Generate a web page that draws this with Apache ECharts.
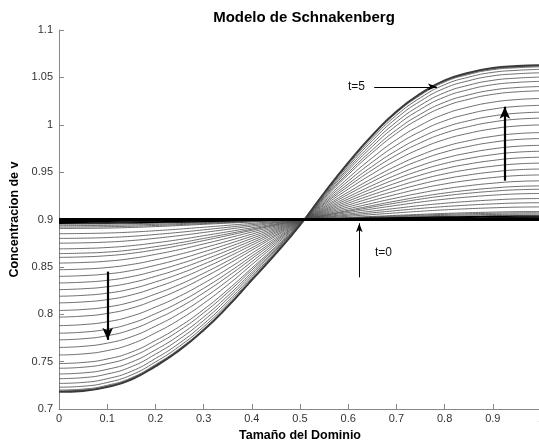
<!DOCTYPE html>
<html>
<head>
<meta charset="utf-8">
<script src="https://cdn.jsdelivr.net/npm/echarts@6/dist/echarts.min.js"></script>
<style>
  html, body { margin: 0; padding: 0; background: #fff; }
  #chart { width: 539px; height: 441px; }
</style>
</head>
<body>
<div id="chart"></div>
<script>
// posiciones en el dominio
var xs = [0, 0.05, 0.1, 0.15, 0.2, 0.25, 0.3, 0.35, 0.4, 0.45, 0.5,
          0.55, 0.6, 0.65, 0.7, 0.75, 0.8, 0.85, 0.9, 0.95, 1];
// perfil final (t=5)
var finalProfile = [0.718, 0.719, 0.723, 0.731, 0.745, 0.762, 0.783, 0.808, 0.836, 0.864, 0.894,
                    0.928, 0.960, 0.989, 1.014, 1.033, 1.047, 1.055, 1.060, 1.062, 1.063];
// perfil intermedio (curva que sale de 0.84 en x=0)
var midProfile = [0.840, 0.841, 0.843, 0.847, 0.853, 0.860, 0.868, 0.876, 0.884, 0.892, 0.899,
                  0.906, 0.913, 0.920, 0.927, 0.934, 0.940, 0.945, 0.949, 0.952, 0.953];
// valor de cada instantanea en x=0 (de t=0 a t=5)
var leftEnd = [0.900, 0.899, 0.898, 0.897, 0.896, 0.895, 0.8935, 0.892, 0.8905, 0.885,
               0.880, 0.875, 0.869, 0.864, 0.860, 0.854, 0.847, 0.840, 0.833, 0.826,
               0.819, 0.812, 0.804, 0.797, 0.788, 0.780, 0.773, 0.765, 0.757, 0.748,
               0.743, 0.737, 0.732, 0.727, 0.723, 0.720, 0.719, 0.7185, 0.718];
var baseLevel = 0.9;
var yTicks = [0.7, 1.1, 0.05];
var xTicks = [0, 1, 0.1];

var chart = echarts.init(document.getElementById('chart'));

// forma normalizada de un perfil (valor -1 en x=0)
function norm(p) {
  return p.map(function (v) { return (v - baseLevel) / (baseLevel - p[0]); });
}
var finalShape = norm(finalProfile);
var midShape = norm(midProfile);

var series = [];
leftEnd.forEach(function (v0, k) {
  var amp = baseLevel - v0;
  var f = amp / (baseLevel - finalProfile[0]);
  var last = k === leftEnd.length - 1;
  var early = k < 5;
  series.push({
    type: 'line',
    data: xs.map(function (x, i) {
      var s = (1 - f) * midShape[i] + f * finalShape[i];
      return [x, baseLevel + amp * s];
    }),
    showSymbol: false,
    smooth: true,
    silent: true,
    z: early ? 3 : 2,
    lineStyle: {
      color: early ? '#000' : (last ? '#3a3a3a' : '#4a4a4a'),
      width: k === 0 ? 3 : (early ? 1.2 : (last ? 1.8 : 0.8))
    }
  });
});

// flechas y textos
var arrowStyle = function (w) { return { color: '#000', width: w, type: 'solid' }; };
series.push({
  type: 'line',
  data: [],
  markLine: {
    silent: true,
    animation: false,
    label: { show: false },
    data: [
      [{ coord: [0.654, 1.040], symbol: 'none', lineStyle: arrowStyle(1) },
       { coord: [0.784, 1.040], symbol: 'arrow', symbolSize: [5, 9] }],
      [{ coord: [0.925, 0.941], symbol: 'none', lineStyle: arrowStyle(2.2) },
       { coord: [0.925, 1.019], symbol: 'arrow', symbolSize: [8, 12] }],
      [{ coord: [0.101, 0.845], symbol: 'none', lineStyle: arrowStyle(2.2) },
       { coord: [0.101, 0.773], symbol: 'arrow', symbolSize: [8, 12] }],
      [{ coord: [0.623, 0.839], symbol: 'none', lineStyle: arrowStyle(1) },
       { coord: [0.623, 0.896], symbol: 'arrow', symbolSize: [5, 9] }]
    ]
  },
  markPoint: {
    silent: true,
    symbol: 'circle',
    symbolSize: 0,
    label: { show: true, color: '#111', fontSize: 12, fontFamily: 'Liberation Sans' },
    data: [
      { coord: [0.617, 1.040], value: 't=5', label: { formatter: 't=5' } },
      { coord: [0.673, 0.865], value: 't=0', label: { formatter: 't=0' } }
    ]
  }
});

var option = {
  backgroundColor: '#fff',
  animation: false,
  textStyle: { fontFamily: 'Liberation Sans' },
  title: {
    text: 'Modelo de Schnakenberg',
    left: 299,
    textAlign: 'center',
    top: 5,
    textStyle: { fontSize: 15, fontWeight: 'bold', color: '#000', fontFamily: 'Liberation Sans' }
  },
  grid: { left: 59, right: -2, top: 30, bottom: 32, outerBoundsMode: 'none', containLabel: false },
  xAxis: {
    type: 'value',
    min: xTicks[0],
    max: xTicks[1],
    interval: xTicks[2],
    name: 'Tamaño del Dominio',
    nameLocation: 'middle',
    nameGap: 17,
    nameTextStyle: { fontSize: 12.5, fontWeight: 'bold', color: '#000' },
    axisLine: { lineStyle: { color: '#888', width: 1 } },
    axisTick: { inside: true, length: 5, lineStyle: { color: '#888' } },
    axisLabel: { color: '#333', fontSize: 11, margin: 4 },
    splitLine: { show: false }
  },
  yAxis: {
    type: 'value',
    min: yTicks[0],
    max: yTicks[1],
    interval: yTicks[2],
    name: 'Concentracion de v',
    nameLocation: 'middle',
    nameGap: 35,
    nameTextStyle: { fontSize: 12.5, fontWeight: 'bold', color: '#000' },
    axisLine: { show: true, lineStyle: { color: '#888', width: 1 } },
    axisTick: { show: true, inside: true, length: 5, lineStyle: { color: '#888' } },
    axisLabel: { color: '#333', fontSize: 11, margin: 6 },
    splitLine: { show: false }
  },
  series: series
};

chart.setOption(option);
</script>
</body>
</html>
